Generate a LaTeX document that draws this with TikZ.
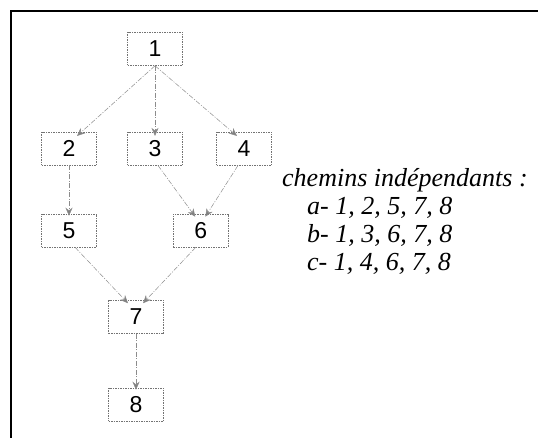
\documentclass[tikz,border=0pt]{standalone}
\usepackage{fontspec}
\setmainfont{Liberation Serif}
\newfontfamily\boxfont{Liberation Sans}
\usetikzlibrary{arrows.meta}
\begin{document}
\begin{tikzpicture}[x=1pt,y=-1pt,
  box/.style={draw=black!55, dashed, dash pattern=on 1.5pt off 1pt, line width=0.5pt,
    minimum width=55pt, minimum height=33pt, inner sep=0pt, font=\boxfont\fontsize{23}{23}\selectfont},
  conn/.style={draw=black!45, line width=0.5pt, dash pattern=on 5pt off 1.5pt on 1pt off 1.5pt,
    -{Stealth[length=8pt,width=7pt,fill=black!50]}},
  lbl/.style={anchor=base west, inner sep=0pt, font=\itshape\fontsize{26}{26}\selectfont}]
\useasboundingbox (0,0) rectangle (538,438);
\draw[line width=1.4pt] (11,438) -- (11,11) -- (538,11);
\node[box] (n1) at (155,49) {1};
\node[box] (n2) at (69,148.7) {2};
\node[box] (n3) at (155,148.7) {3};
\node[box] (n4) at (244,148.7) {4};
\node[box] (n5) at (69,230.5) {5};
\node[box] (n6) at (200.8,230.5) {6};
\node[box] (n7) at (136,317) {7};
\node[box] (n8) at (136,404.5) {8};
\draw[conn] (n1.south) -- ([xshift=8pt,yshift=-4pt]n2.north);
\draw[conn] (n1.south) -- ([yshift=-4pt]n3.north);
\draw[conn] (n1.south) -- ([xshift=-7pt,yshift=-4pt]n4.north);
\draw[conn] (n2.south) -- ([yshift=-2pt]n5.north);
\draw[conn] ([xshift=3pt]n3.south) -- ([xshift=-5.5pt,yshift=-3pt]n6.north);
\draw[conn] ([xshift=-6pt]n4.south) -- ([xshift=4.5pt,yshift=-3pt]n6.north);
\draw[conn] ([xshift=6pt]n5.south) -- ([xshift=-8pt,yshift=-3pt]n7.north);
\draw[conn] ([xshift=-5pt]n6.south) -- ([xshift=7pt,yshift=-3pt]n7.north);
\draw[conn] (n7.south) -- ([yshift=-2pt]n8.north);
\node[lbl] (t0) at (282,187) {chemins indépendants :};
\node[lbl] (ta) at (307,215) {a- 1, 2, 5, 7, 8};
\node[lbl] (tb) at (307,243) {b- 1, 3, 6, 7, 8};
\node[lbl] (tc) at (307,271) {c- 1, 4, 6, 7, 8};
\end{tikzpicture}
\end{document}
